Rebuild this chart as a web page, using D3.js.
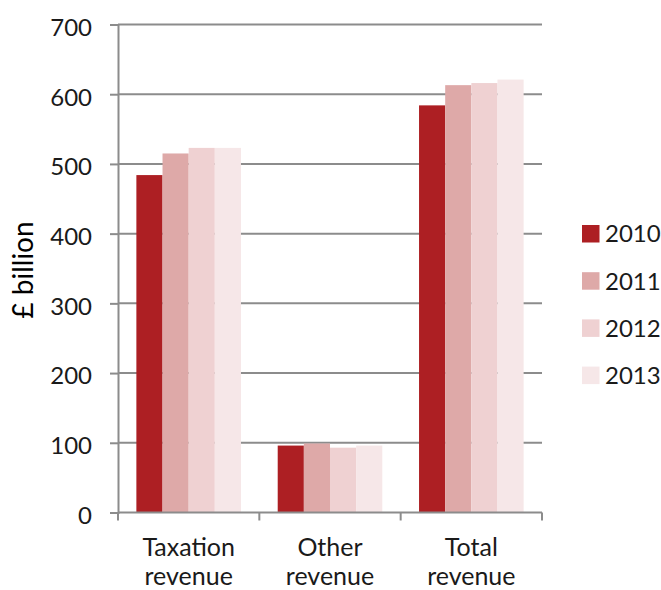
<!DOCTYPE html>
<html>
<head>
<meta charset="utf-8">
<script src="https://cdn.jsdelivr.net/npm/d3@7"></script>
<style>
  html, body { margin: 0; padding: 0; background: #fff; }
  svg { display: block; font-family: Lato, "Open Sans", sans-serif; }
</style>
</head>
<body>
<svg id="chart" width="661" height="590"></svg>
<script>
// Revenue categories (two-line labels) and years
const categories = ["Taxation revenue", "Other revenue", "Total revenue"];
const categoryLines = [["Taxation", "revenue"], ["Other", "revenue"], ["Total", "revenue"]];
const years = ["2010", "2011", "2012", "2013"];

// £ billion, one array per year, in category order
const values2010 = [484, 96, 584];
const values2011 = [515, 99, 613];
const values2012 = [523, 93, 616];
const values2013 = [523, 96, 621];
const seriesValues = [values2010, values2011, values2012, values2013];

const yTicks = [0, 100, 200, 300, 400, 500, 600, 700];
const yearColors = ["#ad1f23", "#dea9a8", "#efd1d2", "#f6e7e8"];

const svg = d3.select("#chart");
const plot = { left: 118, right: 542, top: 24.5, bottom: 512.5 };
const textColor = "#1a1a1a";

const x = d3.scaleBand()
  .domain(categories)
  .range([plot.left, plot.right])
  .paddingInner(0.26)
  .paddingOuter(0.13);

const xInner = d3.scaleBand()
  .domain(years)
  .range([0, x.bandwidth()]);

const y = d3.scaleLinear()
  .domain([0, 700])
  .range([plot.bottom, plot.top]);

const axisColor = "#8c8c8c";

// Horizontal gridlines
svg.append("g")
  .selectAll("line")
  .data(yTicks.filter(d => d > 0))
  .join("line")
  .attr("x1", plot.left)
  .attr("x2", plot.right)
  .attr("y1", d => y(d))
  .attr("y2", d => y(d))
  .attr("stroke", axisColor)
  .attr("stroke-width", 2);

// Bars
const rows = [];
categories.forEach((c, i) => {
  years.forEach((yr, j) => rows.push({ category: c, year: yr, value: seriesValues[j][i], color: yearColors[j] }));
});

svg.append("g")
  .selectAll("rect")
  .data(rows)
  .join("rect")
  .attr("x", d => x(d.category) + xInner(d.year))
  .attr("width", xInner.bandwidth())
  .attr("y", d => y(d.value))
  .attr("height", d => y(0) - y(d.value))
  .attr("fill", d => d.color);

// Y axis
const yAxis = d3.axisLeft(y)
  .tickValues(yTicks)
  .tickSize(8)
  .tickPadding(18)
  .tickFormat(d3.format("d"));

const gy = svg.append("g")
  .attr("transform", `translate(${plot.left},0)`)
  .call(yAxis);
gy.select(".domain").attr("stroke", axisColor).attr("stroke-width", 2);
gy.selectAll(".tick line").attr("stroke", axisColor).attr("stroke-width", 2);
gy.selectAll(".tick text")
  .attr("fill", textColor)
  .attr("font-family", "Lato, 'Open Sans', sans-serif")
  .style("font-size", "24px")
  .attr("dy", "0.45em");

// X axis line with category boundary ticks
svg.append("line")
  .attr("x1", plot.left).attr("x2", plot.right)
  .attr("y1", y(0)).attr("y2", y(0))
  .attr("stroke", axisColor).attr("stroke-width", 2);

const boundaries = d3.range(categories.length + 1).map(i => plot.left + i * (plot.right - plot.left) / categories.length);
svg.append("g")
  .selectAll("line")
  .data(boundaries)
  .join("line")
  .attr("x1", d => d).attr("x2", d => d)
  .attr("y1", y(0)).attr("y2", y(0) + 8)
  .attr("stroke", axisColor).attr("stroke-width", 2);

// Category labels
const labels = svg.append("g")
  .selectAll("text")
  .data(categories)
  .join("text")
  .attr("text-anchor", "middle")
  .attr("fill", textColor)
  .style("font-size", "25px")
  .attr("transform", d => `translate(${x(d) + x.bandwidth() / 2},0)`);

labels.selectAll("tspan")
  .data((d, i) => categoryLines[i])
  .join("tspan")
  .attr("x", 0)
  .attr("y", (d, i) => 556 + i * 29)
  .text(d => d);

// Y axis title
svg.append("text")
  .attr("transform", "translate(33,270) rotate(-90)")
  .attr("text-anchor", "middle")
  .attr("fill", "#000")
  .style("font-size", "28px")
  .text("£ billion");

// Legend
const legend = svg.append("g")
  .selectAll("g")
  .data(years)
  .join("g")
  .attr("transform", (d, i) => `translate(582,${225 + i * 47.2})`);

legend.append("rect")
  .attr("width", 17.5)
  .attr("height", 17.5)
  .attr("fill", (d, i) => yearColors[i]);

legend.append("text")
  .attr("x", 23)
  .attr("y", 17.3)
  .attr("fill", textColor)
  .style("font-size", "24px")
  .text(d => d);
</script>
</body>
</html>
